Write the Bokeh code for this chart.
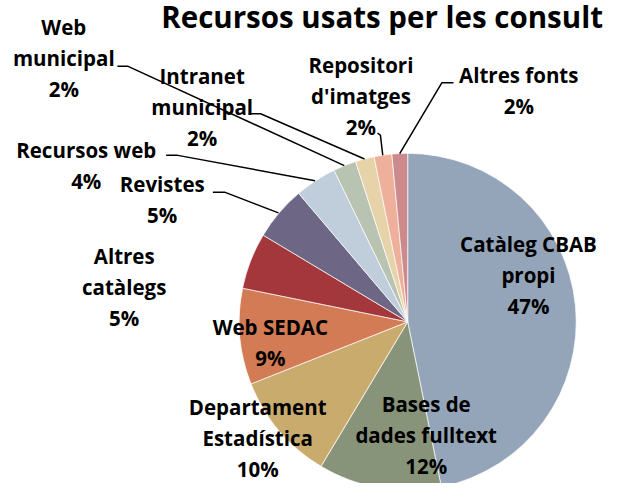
import math
from bokeh.plotting import figure
from bokeh.models import ColumnDataSource, Range1d
from bokeh.core.properties import value
from bokeh.embed import file_html
from bokeh.resources import INLINE

# ---- data ----
categories = ["Catàleg CBAB propi", "Bases de dades fulltext", "Departament Estadística",
              "Web SEDAC", "Altres catàlegs", "Revistes", "Recursos web",
              "Web municipal", "Intranet municipal", "Repositori d'imatges", "Altres fonts"]
shares = [46.8, 11.8, 10.4, 9.2, 5.4, 5.2, 4.0, 2.2, 1.8, 1.7, 1.5]
label_lines = [["Catàleg CBAB", "propi"], ["Bases de", "dades fulltext"],
               ["Departament", "Estadística"], ["Web SEDAC"], ["Altres", "catàlegs"],
               ["Revistes"], ["Recursos web"], ["Web", "municipal"],
               ["Intranet", "municipal"], ["Repositori", "d'imatges"], ["Altres fonts"]]
title_text = "Recursos usats per les consultes"

# ---- styles / layout (reference-image pixel coordinates) ----
colors = ["#94A5B9", "#87947A", "#CAAB6E", "#D27B55", "#A3373B", "#6D6785",
          "#C0CDDB", "#B8C3B1", "#E6D3AA", "#EEB09A", "#CD8A8C"]
cx, cy, R = 418, 332, 173
# x centre and first baseline of each label
label_pos = [(542, 260), (437, 425), (264, 428), (277, 345), (127, 272), (166, 198),
             (88, 162), (65, 35), (207, 86), (370, 75), (532, 85)]
line_gap = 32
label_shift = 8     # renderer places text lower than the nominal baseline
title_shift = 11
# leader start points (None = no leader)
leader_start = [None, None, None, None, None,
                [(218, 198), (230, 198)], [(170, 160), (182, 160)],
                [(120, 68), (131, 68)], [(255, 117), (267, 117)],
                [(387, 137), (390, 139)], [(465, 85), (453, 85)]]

W, H = 603, 483
REF_W, REF_H = 619, 499
p = figure(width=W, height=H, output_backend="svg", toolbar_location=None,
           x_range=Range1d(0, REF_W), y_range=Range1d(-REF_H, 0),
           min_border=0)
p.axis.visible = False
p.grid.visible = False
p.outline_line_color = None
p.background_fill_color = "white"
p.border_fill_color = "white"

total = sum(shares)
starts, ends, mids = [], [], []
c = 0.0
for v in shares:
    starts.append(math.pi / 2 - 2 * math.pi * c / total)
    mids.append(c + v / 2)
    c += v
    ends.append(math.pi / 2 - 2 * math.pi * c / total)

src = ColumnDataSource(dict(start=starts, end=ends, color=colors, cat=categories))
p.wedge(x=cx, y=-cy, radius=R, start_angle="start", end_angle="end",
        direction="clock", fill_color="color", line_color="white", line_width=0.7,
        source=src)

# leader lines
for i, st in enumerate(leader_start):
    if st is None:
        continue
    frac = mids[i] / total
    ang = 2 * math.pi * frac
    ex = cx + (R + 1) * math.sin(ang)
    ey = cy - (R + 1) * math.cos(ang)
    xs = [pt[0] for pt in st] + [ex]
    ys = [-pt[1] for pt in st] + [-ey]
    p.line(xs, ys, line_color="black", line_width=1.5)

# labels
font = value("Open Sans")
tx, ty, tt = [], [], []
for i, lines in enumerate(label_lines):
    x0, y0 = label_pos[i]
    pct = f"{shares[i] / total * 100:.0f}%"
    for k, ln in enumerate(lines + [pct]):
        tx.append(x0)
        ty.append(-(y0 + k * line_gap - label_shift))
        tt.append(ln)
p.text(x=tx, y=ty, text=tt, text_font=font, text_font_style="bold",
       text_font_size="20.5px", text_align="center", text_baseline="alphabetic",
       text_color="black")

# title
p.text(x=[165], y=[-(28 - title_shift)], text=[title_text], text_font=font,
       text_font_style="bold", text_font_size="29.5px", text_align="left",
       text_baseline="alphabetic", text_color="black")

open("out.html", "w").write(file_html(p, INLINE))
